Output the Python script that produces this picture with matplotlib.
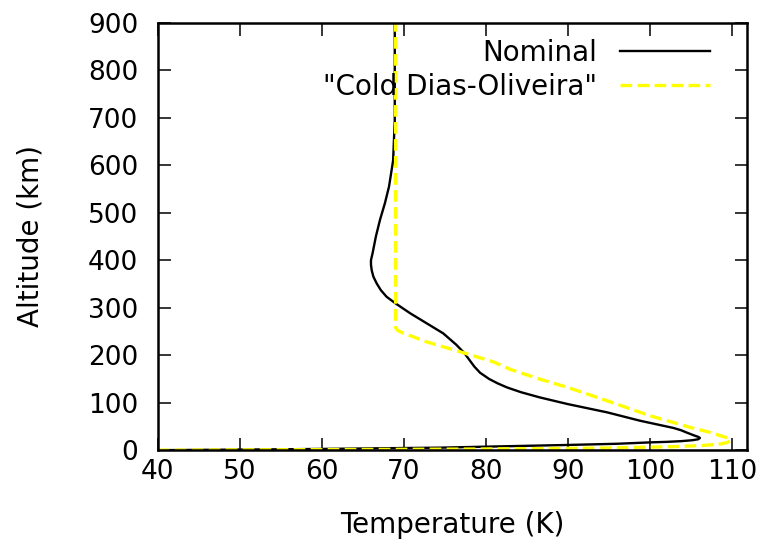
import matplotlib
matplotlib.use("Agg")
import matplotlib.pyplot as plt

plt.rcParams['font.family'] = ['DejaVu Sans']

# nominal profile (temperature K, altitude km)
nom_alt = [0, 1, 2, 3, 4, 5.3, 7.4, 11, 13.5, 16.4, 17.5, 19, 21, 23, 25.7, 28,
           31, 37, 42, 46.7, 62, 79.6, 97, 111, 122, 132, 141, 150, 163, 176,
           190, 204, 222, 246, 267, 288, 309, 323, 337, 351, 365, 378, 390,
           400, 415, 450, 485, 520, 555, 610, 695, 800, 900]
nom_T = [40, 48, 56, 62, 67, 74.4, 80, 90, 96, 100, 102, 103.8, 105.2, 105.9,
         106.1, 105.9, 105.4, 104.5, 103.8, 102.9, 98.8, 94.8, 90, 86.6, 84.3,
         82.6, 81.4, 80.4, 79.3, 78.6, 78.0, 77.4, 76.4, 74.8, 72.8, 70.8, 69.0,
         67.9, 67.2, 66.7, 66.3, 66.1, 66.0, 66.0, 66.2, 66.6, 67.1, 67.7, 68.2,
         68.7, 68.9, 68.9, 68.9]

# cold Dias-Oliveira profile
cold_alt = [0, 0.6, 1.2, 1.8, 2.5, 3.5, 4.6, 7.4, 10, 13, 16, 20, 25, 30.5, 38,
            48, 72.6, 104, 132, 150, 170, 186, 207, 228, 241, 249, 253, 258,
            400, 600, 900]
cold_T = [40, 50, 60, 70, 80, 88, 94.8, 102.9, 106.5, 108.6, 109.4, 109.8,
          109.6, 108.6, 107.2, 104.9, 100, 94.8, 90, 86.5, 83, 80.9, 76.9, 72.8,
          70.8, 69.6, 69.2, 69.0, 69.0, 69.0, 69.0]

fig = plt.figure(figsize=(7.67, 5.48), dpi=100)
ax = fig.add_axes([0.2056, 0.1785, 0.7679, 0.7801])

ax.plot(nom_T, nom_alt, color='black', lw=1.7, label='Nominal')
ax.plot(cold_T, cold_alt, color='#ffff00', lw=2.4, ls=(0, (3.5, 1.6)),
        label='"Cold Dias-Oliveira"')

ax.set_xlim(40, 111.8)
ax.set_ylim(0, 900)
ax.set_xticks(range(40, 111, 10))
ax.set_yticks(range(0, 901, 100))
ax.tick_params(direction='in', length=9, width=1.1, labelsize=19,
               top=True, right=True)
ax.tick_params(axis='x', pad=6)
ax.tick_params(axis='y', pad=14)
for s in ax.spines.values():
    s.set_linewidth(1.8)

ax.set_xlabel('Temperature (K)', fontsize=20, labelpad=19)
ax.set_ylabel('Altitude (km)', fontsize=20, labelpad=31)

leg = ax.legend(loc='upper right', frameon=False, markerfirst=False,
                fontsize=20, handlelength=3.25, handletextpad=0.83,
                labelspacing=0.22, borderaxespad=0.0, borderpad=0.0,
                bbox_to_anchor=(0.938, 0.963))
for t in leg.get_texts():
    t.set_ha('right')

fig.savefig('out.png', dpi=100)
